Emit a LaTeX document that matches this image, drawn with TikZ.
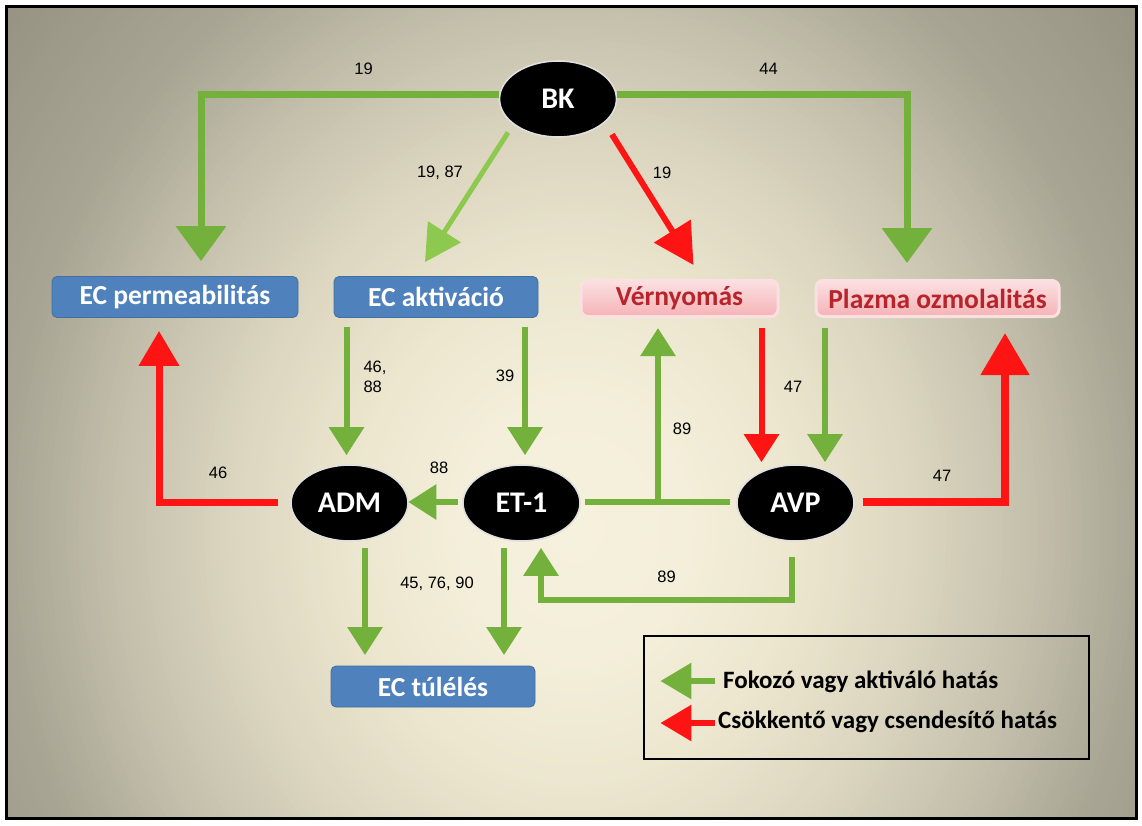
\documentclass[tikz,border=0pt]{standalone}
\usepackage{fontspec}
\setmainfont{Carlito}
\newfontfamily\numfont{Liberation Sans}
\usetikzlibrary{arrows.meta,shapes.geometric,calc}

\definecolor{bga}{HTML}{F6F1DD}
\definecolor{bgb}{HTML}{F4EFDA}
\definecolor{bgc}{HTML}{ECE6CF}
\definecolor{bgd}{HTML}{DCD6C0}
\definecolor{bge}{HTML}{C4C0AC}
\definecolor{bgf}{HTML}{A8A594}
\definecolor{bgg}{HTML}{8E8A7A}
\definecolor{arrgreen}{HTML}{74B03C}
\definecolor{litegreen}{HTML}{8DC84F}
\definecolor{arrred}{HTML}{FF1414}
\definecolor{boxblue}{HTML}{4F81BD}
\definecolor{pinktop}{HTML}{FBE0E1}
\definecolor{pinkbot}{HTML}{F5B3B6}
\definecolor{pinktext}{HTML}{B8242B}
\definecolor{ellrim}{HTML}{E0E0E0}

\tikzset{
  mol/.style={ellipse, fill=black, draw=ellrim, line width=1.6pt,
    minimum width=117pt, minimum height=76pt, inner sep=0pt, text=white,
    font=\fontsize{30}{33}\selectfont\bfseries},
  bluebox/.style={rectangle, rounded corners=5pt, fill=boxblue,
    draw=boxblue!85!black, line width=0.8pt, minimum height=41pt,
    inner sep=0pt, text=white, font=\fontsize{27.5}{30}\selectfont\bfseries},
  pinkbox/.style={rectangle, rounded corners=7pt, top color=pinktop,
    bottom color=pinkbot, draw=pinktop, line width=3pt, minimum height=36pt,
    inner sep=0pt, text=pinktext, font=\fontsize{27.5}{30}\selectfont\bfseries},
  refnum/.style={font=\numfont\fontsize{16.5}{20}\selectfont, text=black,
    inner sep=0pt, align=left},
  legtext/.style={font=\fontsize{25}{28}\selectfont\bfseries, anchor=west,
    inner sep=0pt},
  conn/.style={line join=miter},
  gbig/.style={conn, draw=arrgreen, line width=7pt, -{Triangle[length=35pt,width=49pt]}},
  gmid/.style={conn, draw=arrgreen, line width=6pt, -{Triangle[length=28pt,width=34pt]}},
  gline/.style={conn, draw=arrgreen, line width=6pt},
  gdiag/.style={conn, draw=litegreen, line width=5pt, -{Triangle[length=36pt,width=38pt]}},
  rbig/.style={conn, draw=arrred, line width=8pt, -{Triangle[length=42pt,width=47pt]}},
  rmed/.style={conn, draw=arrred, line width=7pt, -{Triangle[length=35pt,width=39pt]}},
  rmid/.style={conn, draw=arrred, line width=6pt, -{Triangle[length=28pt,width=34pt]}},
  rdiag/.style={conn, draw=arrred, line width=6pt, -{Triangle[length=40pt,width=42pt]}},
  gkey/.style={conn, draw=arrgreen, line width=6pt, -{Triangle[length=31pt,width=35pt]}},
  rkey/.style={conn, draw=arrred, line width=6pt, -{Triangle[length=31pt,width=35pt]}},
}

% one ring of the canvas glow: \glowstep{level}{colour}
\newcommand{\glowstep}[2]{%
  \fill[#2] (575,530) ellipse [x radius={11.42*#1}, y radius={13.08*#1}];}

\begin{document}
\begin{tikzpicture}[x=1pt,y=-1pt]
\useasboundingbox (0,0) rectangle (1142,825);
\fill[white] (0,0) rectangle (1142,825);

% canvas: concentric rings, light in the middle, grey towards the frame
\begin{scope}
  \clip (7,7) rectangle (1136,818);
  \foreach \k in {71,70.5,...,50.5}{\pgfmathsetmacro\p{(71-\k)*4.7619}\glowstep{\k}{bgf!\p!bgg}}
  \foreach \k in {50,49.5,...,40.5}{\pgfmathsetmacro\p{(50-\k)*10}\glowstep{\k}{bge!\p!bgf}}
  \foreach \k in {40,39.5,...,30.5}{\pgfmathsetmacro\p{(40-\k)*10}\glowstep{\k}{bgd!\p!bge}}
  \foreach \k in {30,29.5,...,20.5}{\pgfmathsetmacro\p{(30-\k)*10}\glowstep{\k}{bgc!\p!bgd}}
  \foreach \k in {20,19.5,...,10.5}{\pgfmathsetmacro\p{(20-\k)*10}\glowstep{\k}{bgb!\p!bgc}}
  \foreach \k in {10,9.5,...,0.5}{\pgfmathsetmacro\p{(10-\k)*10}\glowstep{\k}{bga!\p!bgb}}
\end{scope}
\draw[line width=3pt] (6.5,6.5) rectangle (1136.5,818.5);

% molecules
\node[mol] (bk)  at (558,99)    {BK};
\node[mol] (adm) at (349.5,503) {ADM};
\node[mol] (et1) at (521.5,503) {ET-1};
\node[mol] (avp) at (795.5,503) {AVP};

% effects
\node[bluebox, minimum width=246pt] (ecperm) at (175,297)    {EC permeabilitás};
\node[bluebox, minimum width=204pt] (ecakt)  at (436,297)    {EC aktiváció};
\node[pinkbox, minimum width=197pt] (vern)   at (679.5,298.5) {Vérnyomás};
\node[pinkbox, minimum width=243pt] (plaz)   at (937.5,298.5) {Plazma ozmolalitás};
\node[bluebox, minimum width=204pt] (ectul)  at (433,686.5)  {EC túlélés};

% bradykinin effects
\draw[gbig]  ([yshift=5pt]bk.west) -| ($(ecperm.north)+(26,-15)$);
\draw[gbig]  ([yshift=5pt]bk.east) -| ($(plaz.north)+(-30.5,-16)$);
\draw[gdiag] ($(bk.south west)+(-8,6)$) -- ($(ecakt.north)+(-11,-14)$);
\draw[rdiag] ($(bk.south east)+(12,8)$) -- ($(vern.north)+(14,-14)$);

% endothelial activation
\draw[gmid] ($(ecakt.south -| adm.north)+(-3,9)$) -- ($(adm.north)+(-3,-9)$);
\draw[gmid] ($(ecakt.south -| et1.north)+(3.5,9)$) -- ($(et1.north)+(3.5,-9)$);

% ET-1 and ADM
\draw[gmid] ($(et1.west)+(-4,-1)$) -- ($(adm.east)+(-0.5,-1)$);
\draw[rmed] ($(adm.west)+(-12,-1)$) -| ($(ecperm.south)+(-16,13)$);

% ET-1 -- AVP bar and its branch to blood pressure
\draw[gline] ($(et1.east)+(4,-1)$) -- ($(avp.west)+(-6,-1)$);
\coordinate (fork) at (658,502);
\draw[gmid] ($(fork)+(0,3)$) -- ($(fork |- vern.south)+(0,10)$);

% AVP inputs and output
\draw[rmid] ($(vern.south -| avp.north)+(-34,10)$) -- ($(avp.north)+(-34,-2)$);
\draw[gmid] ($(plaz.south -| avp.north)+(29.5,10)$) -- ($(avp.north)+(29.5,-2)$);
\draw[rbig] ($(avp.east)+(8.5,-1)$) -| ($(plaz.south)+(67.5,15)$);

% survival
\draw[gmid] ($(adm.south)+(15.5,6)$) -- ($(ectul.north)+(-68,-10.5)$);
\draw[gmid] ($(et1.south)+(-17.5,6)$) -- ($(ectul.north)+(71,-10.5)$);

% AVP back to ET-1
\draw[gmid] ($(avp.south)+(-3.5,15)$) |- ($(et1.south)+(19.5,58)$) -- ($(et1.south)+(19.5,6)$);

% reference numbers
\node[refnum] (n1)  at (363.6,69) {19};
\node[refnum] (n2)  at (768.6,69) {44};
\node[refnum] (n3)  at (440,173)  {19, 87};
\node[refnum] (n4)  at (662,173)  {19};
\node[refnum] (n5)  at (375,377)  {46,\\88};
\node[refnum] (n6)  at (505,376)  {39};
\node[refnum] (n7)  at (439,468)  {88};
\node[refnum] (n8)  at (218,473)  {46};
\node[refnum] (n9)  at (682,429)  {89};
\node[refnum] (n10) at (793,387)  {47};
\node[refnum] (n11) at (942,476)  {47};
\node[refnum] (n12) at (437,584)  {45, 76, 90};
\node[refnum] (n13) at (666.5,577) {89};

% key
\node[draw=black, line width=1.2pt, minimum width=445pt, minimum height=123pt,
      inner sep=0pt] (legend) at (866.5,697.5) {};
\coordinate (gkS) at ($(legend.west)+(72,-16.5)$);
\coordinate (gkT) at ($(legend.west)+(17,-16.5)$);
\coordinate (rkS) at ($(legend.west)+(72,25.5)$);
\coordinate (rkT) at ($(legend.west)+(17,25.5)$);
\draw[gkey] (gkS) -- (gkT);
\draw[rkey] (rkS) -- (rkT);
\node[legtext] (kg) at (723,682) {Fokozó vagy aktiváló hatás};
\node[legtext] (kr) at (718,722) {Csökkentő vagy csendesítő hatás};
\end{tikzpicture}
\end{document}
